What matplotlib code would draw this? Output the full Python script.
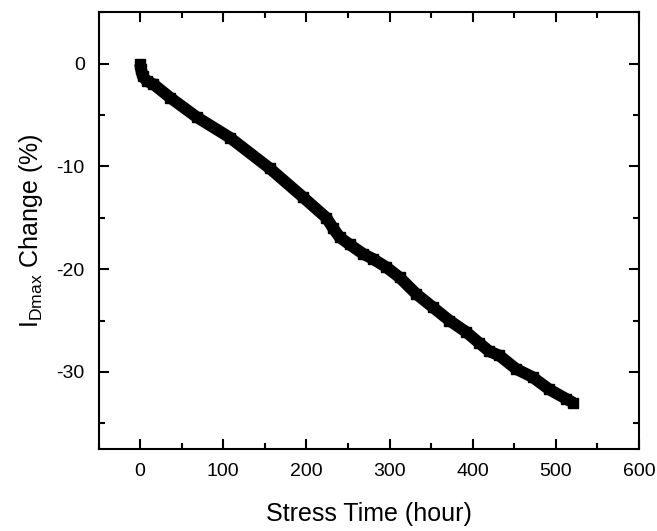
import matplotlib
matplotlib.use('Agg')
import matplotlib.pyplot as plt
from matplotlib.ticker import MultipleLocator

# stress time (hour) and I_Dmax change (%)
hours = [0, 1, 3, 8, 16, 36, 68, 108, 156, 196, 224, 232, 240, 252, 268, 280,
         296, 312, 332, 352, 372, 392, 408, 420, 432, 452, 472, 492, 512, 521]
change = [0, -0.5, -1.2, -1.7, -2.0, -3.3, -5.2, -7.2, -10.2, -13.0, -15.0,
          -16.0, -16.9, -17.6, -18.5, -19.0, -19.8, -20.8, -22.4, -23.7, -25.0,
          -26.1, -27.2, -28.0, -28.4, -29.7, -30.5, -31.7, -32.6, -33.0]

plt.rcParams['font.family'] = ['Liberation Sans', 'DejaVu Sans']
plt.rcParams['mathtext.default'] = 'regular'
plt.rcParams['axes.unicode_minus'] = False

fig = plt.figure(figsize=(6.57, 5.31), dpi=100)
ax = fig.add_axes([0.150, 0.1544, 0.8226, 0.8226])

ax.plot(hours, change, color='black', lw=8.5, marker='s', ms=7,
        solid_joinstyle='round', solid_capstyle='butt')

ax.set_xlim(-50, 600)
ax.set_ylim(-37.5, 5)
ax.xaxis.set_major_locator(MultipleLocator(100))
ax.xaxis.set_minor_locator(MultipleLocator(50))
ax.yaxis.set_major_locator(MultipleLocator(10))
ax.yaxis.set_minor_locator(MultipleLocator(5))

ax.tick_params(which='both', direction='in', top=True, right=True, width=1.5,
               labelsize=14)
ax.tick_params(which='major', length=7, pad=10)
ax.tick_params(which='minor', length=4)
for s in ax.spines.values():
    s.set_linewidth(1.5)

ax.set_xlabel('Stress Time (hour)', fontsize=18, labelpad=16)
ax.set_ylabel(r'I$_{Dmax}$ Change (%)', fontsize=18, labelpad=8)

plt.savefig('out.png', dpi=100)
